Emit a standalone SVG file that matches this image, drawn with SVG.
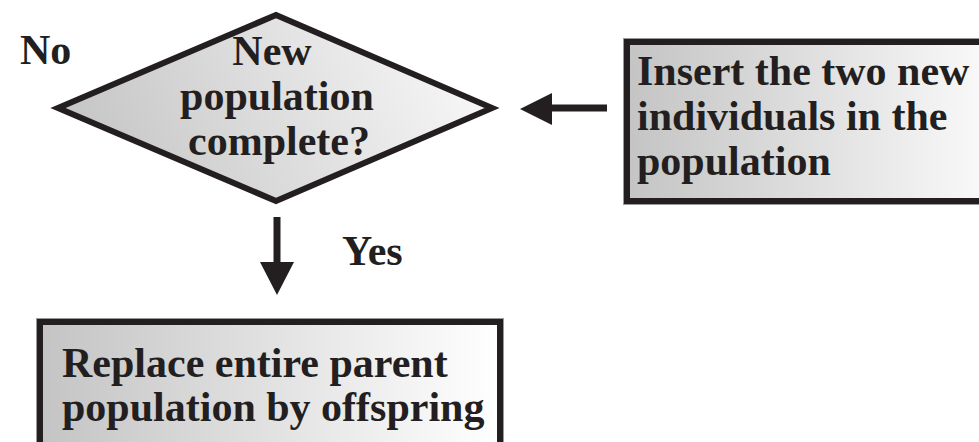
<svg xmlns="http://www.w3.org/2000/svg" width="979" height="442" viewBox="0 0 979 442">
<defs>
<linearGradient id="g" x1="0" y1="0" x2="1" y2="0">
<stop offset="0" stop-color="#c4c4c4"/>
<stop offset="1" stop-color="#ffffff"/>
</linearGradient>
<linearGradient id="gd" x1="0" y1="0.6" x2="1" y2="0.4">
<stop offset="0" stop-color="#c4c4c4"/>
<stop offset="1" stop-color="#f8f8f8"/>
</linearGradient>
<style>
.t{font-family:"Liberation Serif","Times New Roman",serif;font-weight:bold;font-size:42px;fill:#231f20}
.box{fill:url(#g);stroke:#231f20;stroke-width:6}
.edge{stroke:#231f20;stroke-width:7;fill:none}
.head{fill:#231f20}
</style>
</defs>
<rect width="979" height="442" fill="#ffffff"/>
<g id="decision">
<path d="M276,15 L492,108 L276,201 L58,108 Z" fill="url(#gd)" stroke="#231f20" stroke-width="6" stroke-linejoin="miter"/>
<text class="t" x="272" y="65" text-anchor="middle">New</text>
<text class="t" x="277" y="110" text-anchor="middle">population</text>
<text class="t" x="279" y="155" text-anchor="middle">complete?</text>
</g>
<g id="insert">
<rect x="623.5" y="38.5" width="400" height="166" fill="none" stroke="#9a9a9a" stroke-width="1"/>
<rect class="box" x="627" y="42" width="400" height="159"/>
<text class="t" x="637" y="85">Insert the two new</text>
<text class="t" x="637" y="130">individuals in the</text>
<text class="t" x="637" y="175">population</text>
</g>
<g id="replace">
<rect x="36.5" y="318.5" width="467" height="200" fill="none" stroke="#9a9a9a" stroke-width="1"/>
<rect class="box" x="40" y="322" width="460" height="200"/>
<text class="t" x="62" y="377">Replace entire parent</text>
<text class="t" x="62" y="421">population by offspring</text>
</g>
<g id="labels">
<text class="t" x="20" y="64">No</text>
<text class="t" x="342" y="265">Yes</text>
</g>
<g id="connectors">
<line class="edge" x1="607" y1="108" x2="548" y2="108"/>
<polygon class="head" points="520,109 552,93 552,125"/>
<line class="edge" x1="277" y1="217" x2="277" y2="266"/>
<polygon class="head" points="260,262 294,262 277,295"/>
</g>
</svg>
